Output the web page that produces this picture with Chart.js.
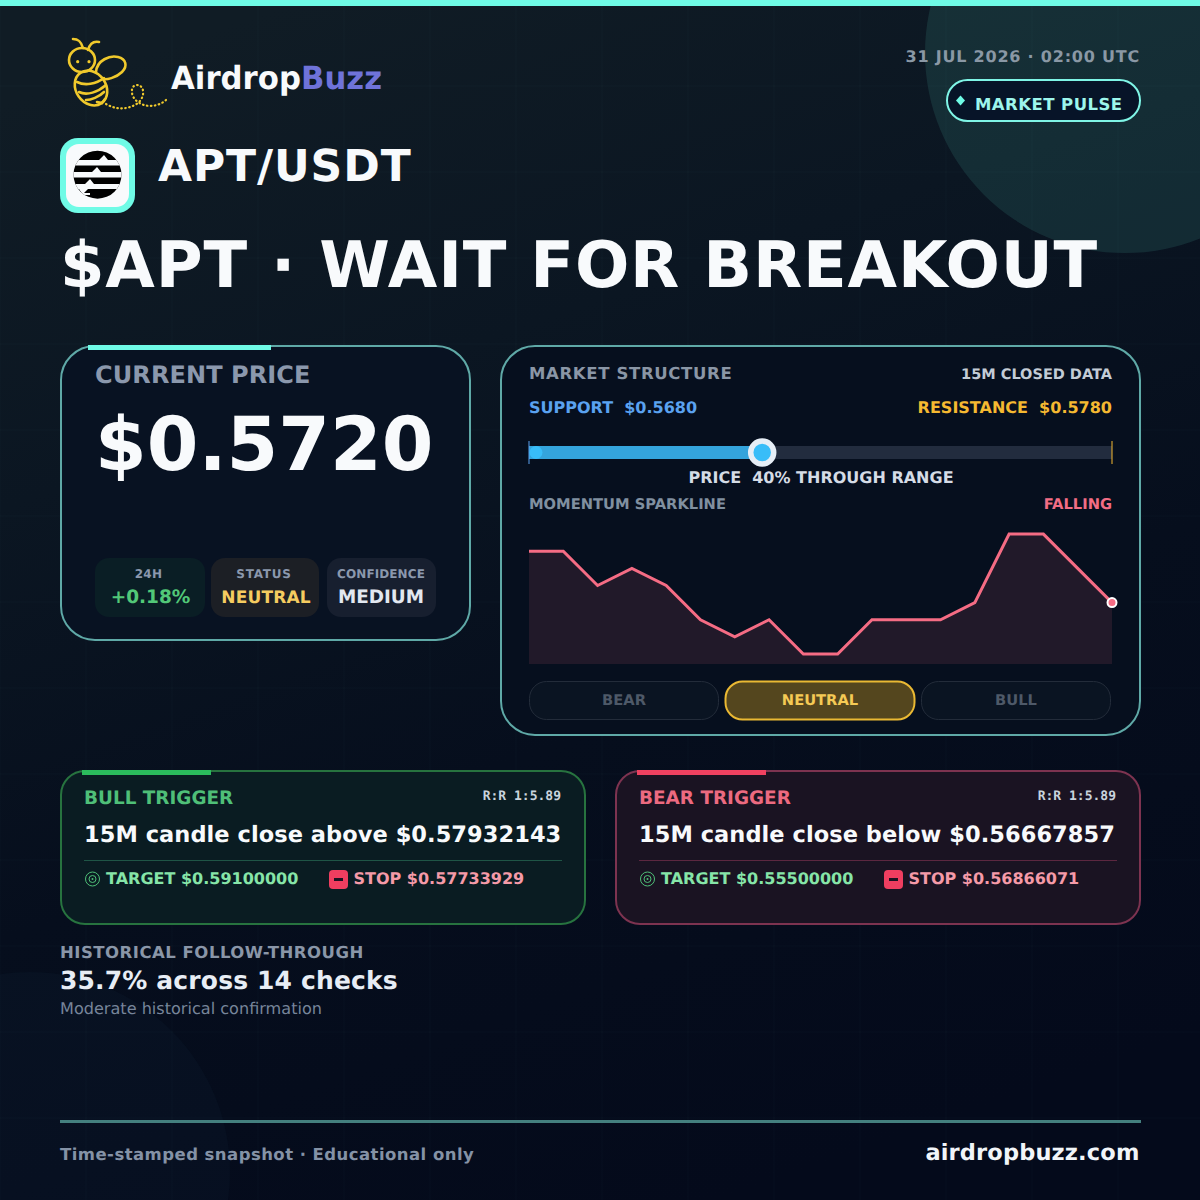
<!DOCTYPE html>
<html><head><meta charset="utf-8">
<script src="https://cdn.jsdelivr.net/npm/chart.js@4"></script>
<style>
html,body{margin:0;padding:0;background:#040a19}
#stage{position:relative;width:1200px;height:1200px;overflow:hidden;font-family:"DejaVu Sans",sans-serif}
#stage svg{position:absolute;left:0;top:0}
canvas{position:absolute;display:block}
text{font-family:"DejaVu Sans",sans-serif;font-weight:700;text-rendering:geometricPrecision}
.m{font-family:"DejaVu Sans Mono",monospace}
.e{text-anchor:end}.c{text-anchor:middle}
</style></head><body>
<div id="stage">
<svg width="1200" height="1200" viewBox="0 0 1200 1200" xmlns="http://www.w3.org/2000/svg">
<defs>
<linearGradient id="bg" x1="0.25" y1="0" x2="0.6" y2="1">
<stop offset="0" stop-color="#101c25"/><stop offset="0.3" stop-color="#0b1622"/><stop offset="0.62" stop-color="#060e1d"/><stop offset="1" stop-color="#040a1b"/>
</linearGradient>
<pattern id="grid" width="86" height="86" patternUnits="userSpaceOnUse" x="0.5" y="0.5">
<path d="M86 0V86M0 86H86" stroke="#8fe8e0" stroke-opacity="0.04" stroke-width="1" fill="none"/>
</pattern>
<clipPath id="coin"><circle cx="97.5" cy="174.7" r="24"/></clipPath>
</defs>
<rect width="1200" height="1200" fill="url(#bg)"/>
<circle cx="1125" cy="53" r="200" fill="#6ffbe6" fill-opacity="0.1"/>
<circle cx="30" cy="1172" r="200" fill="#1e3a4a" fill-opacity="0.1"/>
<rect width="1200" height="1200" fill="url(#grid)"/>
<rect width="1200" height="6" fill="#6ffbe6"/>

<!-- bee logo -->
<g fill="none" stroke="#f0c92c" stroke-width="2.6" stroke-linecap="round">
<ellipse cx="82" cy="60" rx="13" ry="12"/>
<path d="M83 48C81 41 78 39 73 39"/><path d="M88 50C90 43 94 41 99 42"/>
<ellipse cx="91" cy="88" rx="15" ry="18.5" transform="rotate(-35 91 88)"/>
<path d="M77 82C85 86 96 84 104 78"/><path d="M79 92C87 96 98 92 106 85"/><path d="M86 100C91 100 99 97 104 92"/>
<path d="M96 72C97 60 110 55 118 57C126 59 128 66 122 72C116 78 106 80 103 79"/>
<path d="M97 102L102 103L105 99"/>
<path d="M106 104C116 110 128 110 138 103C146 96 144 85 137 85C130 85 130 97 138 102C146 108 158 107 166 100" stroke-dasharray="0.6 3.4" stroke-width="2.2"/>
</g>
<circle cx="77.7" cy="61.7" r="1.6" fill="#f0c92c"/><circle cx="89" cy="61.7" r="1.6" fill="#f0c92c"/>
<text x="171" y="89" font-size="32" fill="#f8fafc" textLength="130" lengthAdjust="spacingAndGlyphs">Airdrop</text>
<text x="301" y="89" font-size="32" fill="#6f73d9" textLength="81" lengthAdjust="spacingAndGlyphs">Buzz</text>

<text class="e" x="1140" y="62" font-size="16" letter-spacing="0.78" fill="#8a98a5">31 JUL 2026 · 02:00 UTC</text>
<rect x="947" y="80" width="193" height="41" rx="20.5" fill="#071428" stroke="#7ff5e6" stroke-width="2"/>
<path d="M960.5 95.5L965 100.5L960.5 105.5L956 100.5Z" fill="#6ffbe6"/>
<text x="975" y="110" font-size="16.5" letter-spacing="0.45" fill="#9df6ec">MARKET PULSE</text>

<!-- APT badge -->
<rect x="60" y="138" width="75" height="75" rx="18" fill="#6ffbe6"/>
<rect x="66" y="144" width="63" height="63" rx="13" fill="#f8fafc"/>
<circle cx="97.5" cy="174.7" r="24" fill="#000"/>
<g clip-path="url(#coin)" fill="#f8fafc">
<path d="M70 160H99L104 155L108 160H125V165.5H70Z"/>
<path d="M70 172H92L97 167L101 172H125V177.5H70Z"/>
<path d="M70 184H85L90 179L94 184H125V189H70Z"/>
<path d="M79 189H88L84 193H90V195H83Z"/>
</g>
<text x="158" y="181" font-size="44" letter-spacing="0.9" fill="#f8fafc">APT/USDT</text>
<text x="60" y="287" font-size="64" letter-spacing="0.82" fill="#f8fafc">$APT · WAIT FOR BREAKOUT</text>

<!-- current price card -->
<rect x="61" y="346" width="409" height="294" rx="34" fill="#081222" stroke="#5fa9a7" stroke-width="2"/>
<rect x="88" y="345" width="183" height="5" fill="#6ffbe6"/>
<text x="95" y="383" font-size="24" letter-spacing="0.1" fill="#8b98ad">CURRENT PRICE</text>
<text x="95" y="470" font-size="74.3" fill="#f8fafc">$0.5720</text>
<rect x="95" y="558" width="110" height="59" rx="14" fill="#0a1e25"/>
<rect x="211" y="558" width="108" height="59" rx="14" fill="#1c1f25"/>
<rect x="327" y="558" width="109" height="59" rx="14" fill="#171f2f"/>
<text class="c" x="148.5" y="578" font-size="12" letter-spacing="0.3" fill="#8b98ad">24H</text>
<text class="c" x="264" y="578" font-size="12" letter-spacing="0.8" fill="#8b98ad">STATUS</text>
<text class="c" x="381" y="578" font-size="12" letter-spacing="0.1" fill="#8b98ad">CONFIDENCE</text>
<text class="c" x="150.5" y="603" font-size="18.5" fill="#52c878">+0.18%</text>
<text class="c" x="266" y="603" font-size="17" letter-spacing="0.15" fill="#f5cc60">NEUTRAL</text>
<text class="c" x="381" y="603" font-size="18.4" fill="#e2e8f0">MEDIUM</text>

<!-- market structure card -->
<rect x="501" y="346" width="639" height="389" rx="34" fill="#060f1e" stroke="#5fa9a7" stroke-width="2"/>
<text x="529" y="379" font-size="16.5" letter-spacing="0.65" fill="#8a96a6">MARKET STRUCTURE</text>
<text class="e" x="1112" y="379" font-size="14.5" fill="#c3ccd6">15M CLOSED DATA</text>
<text x="529" y="413" font-size="16" fill="#5aa2f0" xml:space="preserve">SUPPORT  $0.5680</text>
<text class="e" x="1112" y="413" font-size="16" fill="#f5b931" xml:space="preserve">RESISTANCE  $0.5780</text>
<text class="c" x="821" y="483" font-size="16" fill="#d5dce6" xml:space="preserve">PRICE  40% THROUGH RANGE</text>
<text x="529" y="509" font-size="14.7" fill="#8090a0">MOMENTUM SPARKLINE</text>
<text class="e" x="1112" y="509" font-size="14.7" fill="#f26d85">FALLING</text>
<rect x="529.5" y="681.5" width="189" height="38" rx="17" fill="#0a1422" stroke="#232c3a"/>
<rect x="725.5" y="681.5" width="189" height="38" rx="17" fill="#54461e" stroke="#eab933" stroke-width="2"/>
<rect x="921.5" y="681.5" width="189" height="38" rx="17" fill="#0a1422" stroke="#232c3a"/>
<text class="c" x="624" y="705" font-size="14.7" fill="#4e5968">BEAR</text>
<text class="c" x="820" y="705" font-size="14.7" fill="#f5ca55">NEUTRAL</text>
<text class="c" x="1016" y="705" font-size="14.7" fill="#4e5968">BULL</text>

<!-- bull card -->
<rect x="61" y="771" width="524" height="153" rx="24" fill="#0a1c22" stroke="#27733f" stroke-width="2"/>
<rect x="82" y="770" width="129" height="5" fill="#2bbb5c"/>
<text x="84" y="804" font-size="18.4" fill="#4fbf78">BULL TRIGGER</text>
<text class="m e" x="561" y="800" font-size="13" fill="#c9d3dd">R:R 1:5.89</text>
<text x="84" y="842" font-size="22.5" fill="#f8fafc" letter-spacing="0.05">15M candle close above $0.57932143</text>
<rect x="84" y="860" width="478" height="1" fill="#1f5546"/>
<g fill="none" stroke="#4fbf78"><circle cx="92.5" cy="879" r="7"/><circle cx="92.5" cy="879" r="3.5"/></g><circle cx="92.5" cy="879" r="1" fill="#4fbf78"/>
<text x="106" y="884" font-size="16" fill="#86e5a8">TARGET $0.59100000</text>
<rect x="329" y="870" width="19" height="19" rx="4" fill="#ef3e60"/><rect x="334" y="878" width="9" height="3" fill="#1a1322"/>
<text x="353.5" y="884" font-size="16" fill="#f59aa8">STOP $0.57733929</text>

<!-- bear card -->
<rect x="616" y="771" width="524" height="153" rx="24" fill="#1a1322" stroke="#7d3350" stroke-width="2"/>
<rect x="637" y="770" width="129" height="5" fill="#ef4160"/>
<text x="639" y="804" font-size="18.4" fill="#ec6a80">BEAR TRIGGER</text>
<text class="m e" x="1116" y="800" font-size="13" fill="#c9d3dd">R:R 1:5.89</text>
<text x="639" y="842" font-size="22.5" fill="#f8fafc" letter-spacing="0.05">15M candle close below $0.56667857</text>
<rect x="639" y="860" width="478" height="1" fill="#5c2740"/>
<g fill="none" stroke="#4fbf78"><circle cx="647.5" cy="879" r="7"/><circle cx="647.5" cy="879" r="3.5"/></g><circle cx="647.5" cy="879" r="1" fill="#4fbf78"/>
<text x="661" y="884" font-size="16" fill="#86e5a8">TARGET $0.55500000</text>
<rect x="884" y="870" width="19" height="19" rx="4" fill="#ef3e60"/><rect x="889" y="878" width="9" height="3" fill="#1a1322"/>
<text x="908.5" y="884" font-size="16" fill="#f59aa8">STOP $0.56866071</text>

<text x="60" y="958" font-size="16.5" letter-spacing="0.5" fill="#8a96a8">HISTORICAL FOLLOW-THROUGH</text>
<text x="60" y="989" font-size="25" letter-spacing="0.15" fill="#e8edf5">35.7% across 14 checks</text>
<text x="60" y="1014" font-size="16.1" style="font-weight:400" fill="#77859a">Moderate historical confirmation</text>
<rect x="60" y="1120" width="1081" height="3" fill="#44807f"/>
<text x="60" y="1160" font-size="16.5" letter-spacing="0.45" fill="#8492a6">Time-stamped snapshot · Educational only</text>
<text class="e" x="1139.5" y="1160" font-size="22.5" letter-spacing="0.15" fill="#f1f5f9">airdropbuzz.com</text>
</svg>
<canvas id="range" width="603" height="39" style="left:519px;top:433px;width:603px;height:39px"></canvas>
<canvas id="spark" width="603" height="139" style="left:519px;top:525px;width:603px;height:139px"></canvas>
</div>
<script>
const support = 0.5680;
const resistance = 0.5780;
const price = 0.5720;
const rangeDot = 0.56812;
const sparkLabels = ['-17','-16','-15','-14','-13','-12','-11','-10','-9','-8','-7','-6','-5','-4','-3','-2','-1','0'];
const sparkValues = [0.5750,0.5750,0.5730,0.5740,0.5730,0.5710,0.5700,0.5710,0.5690,0.5690,0.5710,0.5710,0.5710,0.5720,0.5760,0.5760,0.5740,0.5720];

const hidden = {display:false};
function seg(x1,y1,x2,y2){return [{x:x1,y:y1},{x:x2,y:y2}];}
function lineSet(data,color,width,order){
  return {type:'scatter',showLine:true,data,borderColor:color,borderWidth:width,pointRadius:0,clip:false,borderCapStyle:'butt',order};
}
new Chart(document.getElementById('range'),{
  type:'scatter',
  data:{datasets:[
    lineSet(seg(support,0,resistance,0),'#222c3e',13,6),
    lineSet(seg(support,0,price,0),'#34a4dc',13,5),
    lineSet(seg(support,-0.59,support,0.59),'#5aa2f0',1,4),
    lineSet(seg(resistance,-0.59,resistance,0.59),'#f5b931',1,3),
    {type:'scatter',data:[{x:rangeDot,y:0}],pointRadius:6.5,pointBackgroundColor:'#38bdf8',pointBorderWidth:0,clip:false,order:2},
    {type:'scatter',data:[{x:price,y:0}],pointRadius:11.5,pointBackgroundColor:'#38bdf8',pointBorderColor:'#e6eef6',pointBorderWidth:5.5,clip:false,order:1}
  ]},
  options:{responsive:false,animation:false,devicePixelRatio:1,
    layout:{autoPadding:false,padding:{left:10,right:10,top:0,bottom:0}},
    plugins:{legend:hidden,tooltip:{enabled:false}},
    scales:{x:{type:'linear',display:false,min:support,max:resistance},y:{type:'linear',display:false,min:-1,max:1}}}
});
new Chart(document.getElementById('spark'),{
  type:'line',
  data:{labels:sparkLabels,datasets:[{
    data:sparkValues,tension:0,borderColor:'#f56c84',borderWidth:3,
    borderJoinStyle:'miter',fill:'start',backgroundColor:'rgba(245,108,132,0.115)',clip:false,
    pointRadius:c=>c.dataIndex===sparkValues.length-1?4.5:0,
    pointBackgroundColor:'#f56c84',pointBorderColor:'#ffffff',pointBorderWidth:2
  }]},
  options:{responsive:false,animation:false,devicePixelRatio:1,
    layout:{autoPadding:false,padding:{left:10,right:10,top:0,bottom:0}},
    plugins:{legend:hidden,tooltip:{enabled:false}},
    scales:{x:{type:'category',display:false,offset:false},y:{type:'linear',display:false,min:0.568416,max:0.57653}}}
});
</script>
</body></html>
